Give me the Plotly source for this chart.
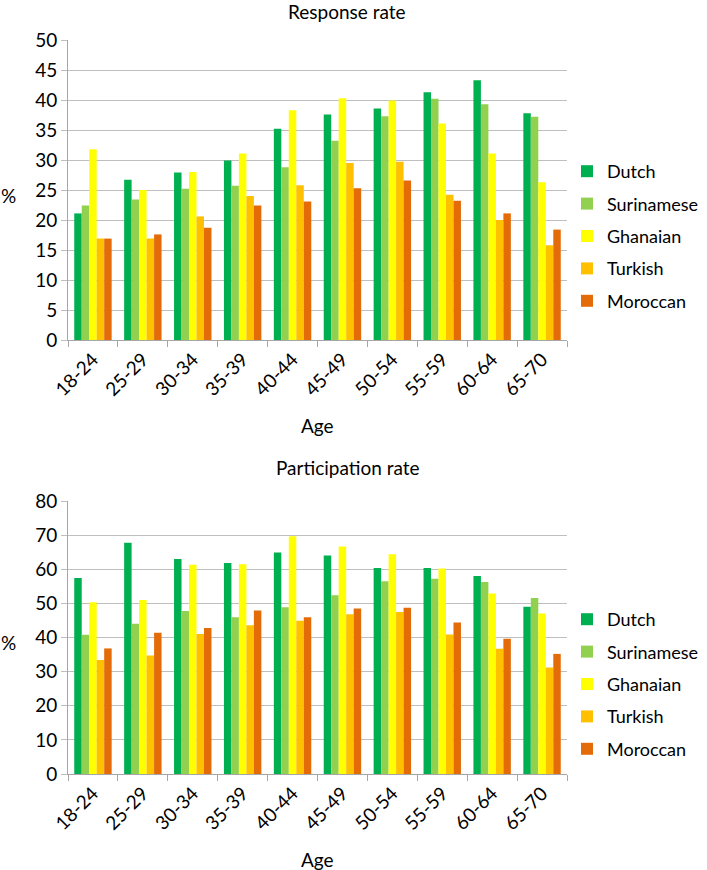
import plotly.graph_objects as go

ages = ["18-24", "25-29", "30-34", "35-39", "40-44", "45-49", "50-54", "55-59", "60-64", "65-70"]
groups = ["Dutch", "Surinamese", "Ghanaian", "Turkish", "Moroccan"]
colors = ["#00B050", "#92D050", "#FFFF00", "#FFC000", "#E36C09"]

# Response rate (%)
resp_dutch = [21.1, 26.7, 27.9, 29.9, 35.2, 37.6, 38.6, 41.3, 43.3, 37.8]
resp_surinamese = [22.4, 23.4, 25.2, 25.7, 28.8, 33.2, 37.3, 40.2, 39.3, 37.2]
resp_ghanaian = [31.8, 25.0, 28.0, 31.1, 38.3, 40.3, 39.9, 36.1, 31.1, 26.3]
resp_turkish = [16.9, 16.9, 20.6, 24.0, 25.8, 29.5, 29.7, 24.2, 20.0, 15.8]
resp_moroccan = [16.9, 17.6, 18.7, 22.4, 23.1, 25.3, 26.6, 23.2, 21.1, 18.4]

# Participation rate (%)
part_dutch = [57.4, 67.8, 63.0, 61.8, 64.9, 64.0, 60.4, 60.4, 58.0, 49.0]
part_surinamese = [40.8, 44.0, 47.8, 45.9, 48.9, 52.4, 56.5, 57.2, 56.3, 51.6]
part_ghanaian = [50.3, 51.0, 61.3, 61.5, 69.7, 66.7, 64.4, 60.2, 52.9, 47.0]
part_turkish = [33.4, 34.7, 41.0, 43.6, 44.9, 46.8, 47.5, 40.9, 36.7, 31.2]
part_moroccan = [36.8, 41.4, 42.8, 47.9, 45.9, 48.5, 48.7, 44.4, 39.6, 35.2]

resp = [resp_dutch, resp_surinamese, resp_ghanaian, resp_turkish, resp_moroccan]
part = [part_dutch, part_surinamese, part_ghanaian, part_turkish, part_moroccan]

W, H = 707, 870
FONT = "Lato"
GRID = "#BFBFBF"
AXL = "#A6A6A6"


def px(x):
    return x / W


def py(y):
    return 1 - y / H


fig = go.Figure()
for i, g in enumerate(groups):
    fig.add_trace(go.Bar(x=ages, y=resp[i], name=g, marker=dict(color=colors[i], line=dict(width=0)),
                         xaxis="x", yaxis="y", legend="legend", legendgroup="t%d" % i))
for i, g in enumerate(groups):
    fig.add_trace(go.Bar(x=ages, y=part[i], name=g, marker=dict(color=colors[i], line=dict(width=0)),
                         xaxis="x2", yaxis="y2", legend="legend2", legendgroup="b%d" % i))

xd = [px(68), px(567)]
axis_common = dict(showgrid=False, showline=True, linecolor=AXL, linewidth=1, automargin=False,
                   ticks="outside", ticklen=6, tickcolor=AXL, tickson="boundaries",
                   tickangle=-45, tickfont=dict(size=19, color="black"))
yaxis_common = dict(showgrid=True, gridcolor=GRID, gridwidth=1, showline=True, linecolor=AXL,
                    ticks="outside", ticklen=6, tickcolor=GRID, zeroline=False, automargin=False,
                    tickfont=dict(size=19, color="black"))

legend_common = dict(font=dict(size=18, color="black"), tracegroupgap=6, itemwidth=30,
                     bgcolor="rgba(0,0,0,0)", xanchor="left", yanchor="middle",
                     traceorder="grouped", itemclick=False)

fig.update_layout(
    width=W, height=H,
    margin=dict(l=0, r=0, t=0, b=0),
    paper_bgcolor="white", plot_bgcolor="white",
    font=dict(family=FONT, color="black"),
    barmode="group", bargap=0.25, bargroupgap=0,
    xaxis=dict(domain=xd, anchor="y", **axis_common),
    yaxis=dict(domain=[py(340), py(40)], anchor="x", range=[0, 50], dtick=5, **yaxis_common),
    xaxis2=dict(domain=xd, anchor="y2", **axis_common),
    yaxis2=dict(domain=[py(774), py(501)], anchor="x2", range=[0, 80], dtick=10, **yaxis_common),
    legend=dict(x=px(567), y=py(236), **legend_common),
    legend2=dict(x=px(567), y=py(684), **legend_common),
    annotations=[
        dict(text="Response rate", x=px(347), y=py(0), xref="paper", yref="paper",
             showarrow=False, font=dict(size=19), xanchor="center", yanchor="top", yshift=2),
        dict(text="Participation rate", x=px(348), y=py(468), xref="paper", yref="paper",
             showarrow=False, font=dict(size=19), xanchor="center", yanchor="middle"),
        dict(text="Age", x=px(317), y=py(425), xref="paper", yref="paper",
             showarrow=False, font=dict(size=19), xanchor="center", yanchor="middle"),
        dict(text="Age", x=px(317), y=py(859), xref="paper", yref="paper",
             showarrow=False, font=dict(size=19), xanchor="center", yanchor="middle"),
        dict(text="%", x=px(8), y=py(195), xref="paper", yref="paper",
             showarrow=False, font=dict(size=19), xanchor="center", yanchor="middle"),
        dict(text="%", x=px(8), y=py(642), xref="paper", yref="paper",
             showarrow=False, font=dict(size=19), xanchor="center", yanchor="middle"),
    ],
)

fig.write_html("out.html", config={"displayModeBar": False},
               post_script="document.body.style.margin='0';document.body.style.padding='0';")
